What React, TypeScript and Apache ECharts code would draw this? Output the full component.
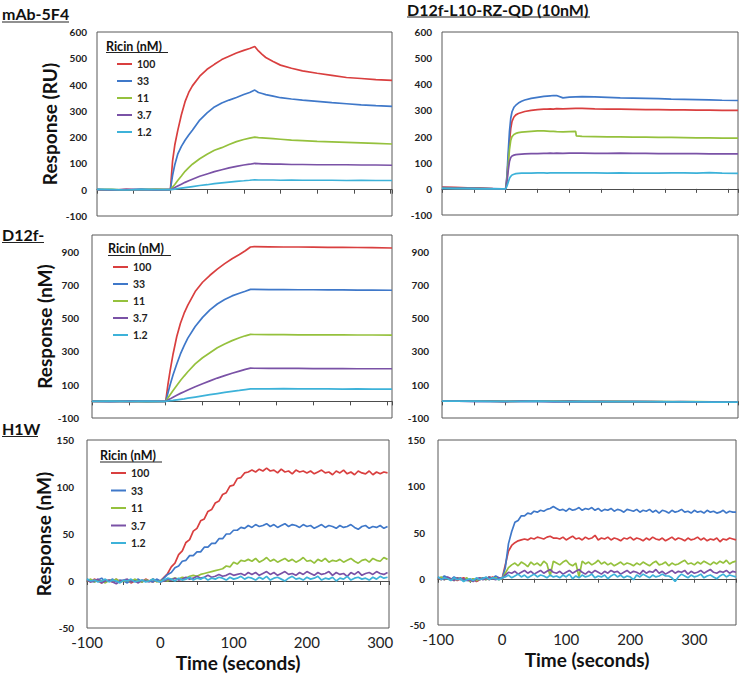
import React, { useEffect, useRef } from 'react';
import * as echarts from 'echarts';

// ---------- labels ----------
const concentrations = ['100', '33', '11', '3.7', '1.2'];
const seriesColors = ['#D93F3F', '#3F78C9', '#95C13D', '#7A52A6', '#3DB2D9'];
const panelTitles = ['mAb-5F4', 'D12f-L10-RZ-QD (10nM)', 'D12f-', 'H1W'];
const legendTitle = 'Ricin (nM)';
const yTitles = ['Response (RU)', 'Response (nM)', 'Response (nM)'];
const xTitle = 'Time (seconds)';

// ---------- mAb-5F4 (top-left) ----------
const tTL = [-100, -80, -60, -40, -20, 0, 3, 6, 10, 15, 20, 25, 30, 40, 50, 60, 70, 80, 90, 100, 108, 115, 120, 125, 130, 140, 150, 165, 180, 200, 220, 240, 260, 280, 302];
const mab100 = [0, -2, 1, -1, 1, 0, 110, 170, 225, 285, 335, 370, 395, 432, 458, 477, 495, 508, 520, 530, 537, 545, 528, 515, 503, 488, 474, 462, 452, 443, 435, 427, 423, 419, 416];
const mab33 = [1, 0, -1, 2, 0, 0, 55, 95, 135, 165, 188, 208, 226, 265, 292, 315, 330, 341, 351, 362, 370, 379, 370, 366, 362, 356, 350, 345, 341, 336, 331, 327, 323, 320, 317];
const mab11 = [0, 1, -1, 0, 1, 0, 10, 20, 35, 52, 70, 84, 97, 118, 135, 150, 160, 172, 183, 191, 196, 200, 198, 197, 196, 194, 192, 189, 187, 184, 182, 180, 178, 176, 174];
const mab37 = [0, -1, 1, 0, -1, 0, 4, 8, 14, 21, 28, 34, 40, 51, 60, 69, 76, 83, 89, 94, 97, 100, 99, 98, 98, 97, 97, 96, 96, 95, 95, 95, 94, 94, 93];
const mab12 = [1, 0, -1, 1, 0, 0, 1, 2, 4, 6, 8, 10, 12, 16, 19, 23, 26, 29, 32, 34, 36, 38, 37, 37, 37, 37, 36, 37, 36, 36, 36, 35, 36, 35, 35];

// ---------- D12f-L10-RZ-QD vs mAb-5F4 chip (top-right) ----------
const tTR = [-100, -80, -60, -40, -20, -5, 0, 2, 4, 6, 8, 10, 13, 16, 20, 25, 30, 40, 50, 60, 65, 70, 75, 80, 90, 100, 110, 111, 120, 140, 160, 180, 200, 220, 240, 260, 280, 300, 320, 340, 365];
const qdA100 = [7, 6, 4, 3, 1, 0, 0, 40, 110, 180, 230, 258, 275, 283, 288, 292, 296, 300, 303, 305, 305, 306, 305, 307, 306, 307, 308, 307, 308, 306, 305, 305, 304, 303, 303, 302, 302, 301, 301, 300, 300];
const qdA33 = [5, 4, 3, 2, 1, 0, 0, 50, 140, 220, 270, 295, 312, 320, 328, 335, 340, 346, 350, 354, 355, 356, 357, 357, 348, 351, 352, 352, 353, 352, 350, 348, 347, 346, 345, 343, 342, 341, 340, 339, 338];
const qdA11 = [3, 2, 1, 1, 0, 0, 0, 30, 90, 150, 185, 200, 208, 212, 215, 217, 218, 220, 222, 222, 221, 220, 220, 219, 218, 219, 220, 203, 201, 200, 199, 199, 198, 198, 197, 197, 196, 195, 195, 194, 194];
const qdA37 = [2, 2, 1, 1, 0, 0, 0, 25, 70, 105, 120, 126, 129, 131, 132, 133, 134, 135, 135, 136, 136, 137, 136, 137, 136, 137, 137, 137, 137, 136, 136, 137, 136, 136, 135, 135, 135, 135, 134, 134, 134];
const qdA12 = [2, 1, 1, 0, 0, 0, 0, 10, 25, 40, 48, 53, 56, 58, 59, 60, 60, 60, 61, 61, 60, 61, 61, 61, 61, 61, 61, 61, 61, 61, 60, 61, 60, 60, 60, 61, 61, 60, 62, 60, 59];

// ---------- D12f- (middle-left) ----------
const tML = [-100, -75, -50, -25, 0, 3, 6, 10, 15, 20, 25, 30, 40, 50, 60, 70, 80, 90, 100, 108, 115, 120, 140, 160, 180, 200, 220, 240, 260, 280, 307];
const d100 = [0, 2, -1, 1, 0, 100, 185, 285, 390, 470, 530, 578, 660, 716, 758, 795, 828, 857, 883, 905, 928, 930, 929, 928, 928, 927, 926, 926, 925, 924, 922];
const d33 = [1, 0, 1, -1, 0, 50, 100, 160, 225, 285, 335, 380, 450, 505, 550, 585, 612, 634, 650, 662, 673, 673, 672, 672, 671, 671, 670, 670, 669, 669, 668];
const d11 = [0, 1, 0, -1, 0, 20, 40, 65, 95, 125, 152, 178, 225, 262, 292, 322, 345, 365, 382, 394, 403, 402, 401, 401, 400, 400, 400, 400, 399, 399, 398];
const d37 = [0, -1, 1, 0, 0, 8, 15, 25, 37, 48, 58, 68, 88, 106, 123, 140, 155, 169, 182, 192, 200, 199, 198, 198, 198, 197, 197, 197, 196, 196, 196];
const d12 = [0, 1, 0, 1, 0, 2, 4, 6, 9, 12, 15, 19, 26, 33, 40, 47, 54, 60, 66, 71, 75, 75, 75, 76, 75, 75, 75, 74, 75, 74, 74];

// ---------- D12f-L10-RZ-QD vs D12f- chip (middle-right) ----------
const tMR = [-100, -75, -50, -25, 0, 25, 50, 75, 100, 125, 150, 175, 200, 225, 250, 275, 300, 325, 350, 365];
const qdB100 = [2, 3, 1, 2, 0, 1, 2, 0, 1, -1, 0, -1, -2, -1, -3, -2, -3, -4, -3, -4];
const qdB33 = [1, 2, 0, 1, -1, 0, 1, -1, 0, -2, -1, -2, -1, -3, -2, -4, -3, -5, -4, -5];
const qdB11 = [3, 2, 2, 1, 0, 2, 1, 1, 0, 0, -1, 0, -2, -1, -2, -3, -2, -3, -4, -4];
const qdB37 = [1, 1, 0, 0, -1, 1, 0, -1, 0, -1, -2, -1, -2, -2, -3, -3, -4, -3, -5, -5];
const qdB12 = [2, 1, 1, 0, 0, 0, 1, 0, -1, 0, -1, -2, -1, -2, -3, -2, -3, -4, -4, -5];

// ---------- H1W (bottom-left) ----------
const tBL = [-100, -95, -90, -85, -80, -75, -70, -65, -60, -55, -50, -45, -40, -35, -30, -25, -20, -15, -10, -5, 0, 5, 10, 15, 20, 25, 30, 35, 40, 45, 50, 55, 60, 65, 70, 75, 80, 85, 90, 95, 100, 105, 110, 115, 120, 125, 130, 135, 140, 145, 150, 155, 160, 165, 170, 175, 180, 185, 190, 195, 200, 205, 210, 215, 220, 225, 230, 235, 240, 245, 250, 255, 260, 265, 270, 275, 280, 285, 290, 295, 300, 305, 310];
const h100 = [1, -1, 2, 0, -2, 1, 0, -1, 2, -1, 0, 1, -2, 0, 1, -1, 2, 0, -1, 1, 0, 4, 8, 15, 19, 28, 32, 41, 44, 53, 56, 64, 66, 74, 76, 83, 85, 92, 94, 101, 102, 109, 110, 115, 116, 118, 116, 119, 117, 120, 117, 118, 115, 119, 116, 117, 114, 118, 116, 117, 115, 117, 114, 116, 118, 115, 116, 113, 117, 115, 118, 114, 116, 113, 117, 115, 114, 117, 113, 116, 114, 116, 115];
const h33 = [2, 0, -1, 1, 3, -1, 0, 2, -1, 1, 0, -2, 1, 0, 2, -1, 1, 0, -1, 2, 0, 3, 7, 9, 14, 16, 21, 22, 27, 27, 31, 31, 36, 36, 40, 40, 45, 45, 50, 50, 54, 54, 57, 56, 59, 57, 60, 58, 59, 61, 58, 60, 57, 59, 61, 58, 60, 59, 57, 60, 58, 59, 56, 58, 60, 57, 59, 58, 56, 59, 57, 58, 60, 57, 55, 58, 59, 56, 58, 57, 59, 56, 58];
const h11 = [0, 2, -1, 1, 0, -2, 1, 0, 2, -1, 0, 1, -1, 2, 0, -1, 1, 0, 2, -1, 0, 1, 0, 2, 3, 2, 4, 3, 5, 6, 5, 7, 8, 9, 10, 11, 12, 13, 16, 15, 20, 18, 22, 21, 23, 21, 24, 20, 22, 25, 21, 23, 20, 22, 24, 21, 23, 20, 22, 25, 21, 22, 19, 23, 21, 24, 20, 22, 21, 23, 20, 22, 24, 21, 19, 22, 23, 20, 24, 22, 21, 25, 23];
const h37 = [1, -1, 0, 2, -2, 0, 1, -1, -3, 0, 1, 2, -1, 0, -2, 1, 0, -1, 2, 0, -1, 0, 2, 1, 3, 1, 2, 4, 2, 3, 5, 3, 4, 6, 4, 5, 7, 5, 6, 8, 6, 7, 8, 6, 9, 7, 9, 6, 8, 10, 7, 9, 6, 8, 10, 7, 8, 6, 9, 7, 10, 8, 6, 9, 7, 8, 10, 6, 9, 7, 8, 5, 9, 7, 10, 6, 8, 9, 7, 10, 8, 7, 9];
const h12 = [2, 0, 1, -1, 0, 2, -1, 1, 0, -2, 1, 0, 2, -1, 0, 1, -1, 0, 2, 0, -1, 1, 3, 2, 0, 3, 1, 2, 4, 1, 3, 2, 4, 1, 3, 2, 4, 3, 1, 4, 2, 3, 5, 2, 4, 3, 1, 4, 2, 5, 1, 3, 4, 2, 0, 3, 5, 2, 3, 1, 4, 2, 3, 5, 1, 3, 2, 4, 0, 3, 2, 5, 1, 3, 4, 2, 3, 1, 4, 2, 5, 3, 4];

// ---------- D12f-L10-RZ-QD vs H1W chip (bottom-right) ----------
const tBR = [-100, -95, -90, -85, -80, -75, -70, -65, -60, -55, -50, -45, -40, -35, -30, -25, -20, -15, -10, -5, 0, 5, 10, 15, 20, 25, 30, 35, 40, 45, 50, 55, 60, 65, 70, 75, 80, 85, 90, 95, 100, 105, 110, 115, 120, 125, 130, 135, 140, 145, 150, 155, 160, 165, 170, 175, 180, 185, 190, 195, 200, 205, 210, 215, 220, 225, 230, 235, 240, 245, 250, 255, 260, 265, 270, 275, 280, 285, 290, 295, 300, 305, 310, 315, 320, 325, 330, 335, 340, 345, 350, 355, 360, 365];
const qdC100 = [1, -1, 2, 0, -1, 1, -2, 0, 1, -1, -2, 0, -3, -1, 0, 1, -1, 2, 0, 1, 0, 15, 30, 36, 39, 41, 42, 43, 42, 44, 43, 45, 44, 43, 45, 46, 44, 44, 43, 45, 42, 44, 46, 43, 44, 42, 45, 43, 44, 47, 42, 44, 43, 45, 42, 44, 43, 41, 44, 43, 45, 42, 44, 43, 41, 44, 42, 45, 43, 42, 44, 41, 43, 45, 42, 44, 43, 41, 44, 42, 43, 45, 42, 44, 41, 43, 42, 44, 40, 43, 42, 44, 43, 42];
const qdC33 = [2, 0, 3, 1, -1, 2, 0, 1, -2, 0, -3, -1, -2, 0, 1, -1, 2, 0, 3, 1, 0, 12, 38, 51, 61, 63, 68, 68, 71, 70, 73, 72, 74, 73, 75, 76, 78, 76, 74, 75, 73, 76, 74, 75, 77, 74, 76, 75, 77, 74, 76, 73, 75, 74, 76, 73, 75, 74, 72, 75, 74, 73, 75, 72, 74, 73, 75, 72, 74, 71, 74, 73, 71, 74, 72, 73, 75, 72, 73, 71, 74, 72, 73, 71, 74, 72, 73, 71, 72, 74, 71, 73, 72, 72];
const qdC11 = [0, 2, -1, 1, 0, -2, 1, 0, -1, 1, -3, 0, -2, 1, 0, -1, 2, 0, 1, -1, 0, 6, 12, 15, 17, 14, 18, 16, 13, 18, 15, 17, 14, 19, 16, 3, 19, 17, 15, 18, 20, 16, 14, 17, 2, 19, 16, 18, 15, 17, 20, 16, 18, 15, 17, 14, 16, 18, 15, 17, 16, 14, 17, 15, 18, 16, 14, 17, 19, 15, 16, 18, 14, 17, 15, 16, 18, 20, 16, 17, 15, 18, 16, 19, 17, 15, 18, 16, 19, 17, 20, 16, 18, 19];
const qdC37 = [1, 0, -1, 2, 0, -2, 1, -1, 0, -2, -1, -3, 0, 1, -1, 0, 2, 0, -1, 1, 0, 4, 7, 6, 8, 5, 7, 9, 6, 8, 5, 7, 9, 6, 8, 10, 7, 6, 8, 5, 7, 9, 6, 8, 10, 7, 5, 8, 6, 9, 7, 5, 8, 6, 9, 7, 8, 5, 7, 9, 6, 8, 7, 5, 9, 6, 8, 7, 10, 6, 8, 5, 7, 9, 6, 8, 7, 9, 5, 8, 6, 7, 9, 6, 8, 10, 7, 6, 8, 7, 9, 6, 8, 7];
const qdC12 = [2, -1, 1, 0, -2, 1, -1, 0, -3, -1, 0, -2, 1, -1, 0, 2, -1, 1, 0, -1, 1, 2, 4, 1, 3, 5, 2, 4, 1, 3, 5, 2, 4, 3, 1, 4, 2, 3, 1, 4, 2, 5, 0, 3, 1, 4, 2, 3, 5, 1, 3, 2, 4, 0, 3, 5, 2, 4, 1, 3, 2, -1, 4, 2, 5, 3, 1, 4, 2, 3, 5, 3, 3, 1, -3, 2, 5, 3, 1, 4, 2, 3, 5, 1, 3, 4, 2, 0, 3, 5, 2, 4, 3, 2];

// ---------- axis ticks ----------
const yRanges = [[-100, 600, 100], [-100, 600, 100], [-100, 1000, 200], [-100, 1000, 200], [-50, 150, 50], [-50, 150, 50]];
const xMaxes = [302, 365, 307, 365, 312, 365];
const xMin = -100;
const xTickStep = 50;
const xLabelStep = 100;

const FONT = 'Lato, "Open Sans", sans-serif';

const panelData = [
  { t: tTL, v: [mab100, mab33, mab11, mab37, mab12] },
  { t: tTR, v: [qdA100, qdA33, qdA11, qdA37, qdA12] },
  { t: tML, v: [d100, d33, d11, d37, d12] },
  { t: tMR, v: [qdB100, qdB33, qdB11, qdB37, qdB12] },
  { t: tBL, v: [h100, h33, h11, h37, h12] },
  { t: tBR, v: [qdC100, qdC33, qdC11, qdC37, qdC12] },
];

// layout (pixels)
const gridBoxes = [
  { left: 97, top: 32, width: 295, height: 184 },
  { left: 442, top: 32, width: 296, height: 183 },
  { left: 92, top: 235, width: 300, height: 183 },
  { left: 442, top: 235, width: 296, height: 183 },
  { left: 87, top: 440, width: 302, height: 188 },
  { left: 438, top: 440, width: 298, height: 185 },
];
const yLabelMargins = [10, 10, 13, 13, 13, 13];
const yNameGaps = [38, 0, 38, 0, 34, 0];

function buildOption() {
  const grid = gridBoxes.map((g) => ({
    ...g,
    show: true,
    borderColor: '#595959',
    borderWidth: 1,
    backgroundColor: '#ffffff',
  }));

  const xAxis: any[] = [];
  const yAxis: any[] = [];
  const series: any[] = [];

  gridBoxes.forEach((_, p) => {
    const isBottom = p >= 4;
    // axis through zero with tick marks
    xAxis.push({
      type: 'value',
      gridIndex: p,
      min: xMin,
      max: xMaxes[p],
      interval: xTickStep,
      position: 'bottom',
      axisLine: { show: true, onZero: true, lineStyle: { color: '#4d4d4d', width: 1 } },
      axisTick: { show: true, length: 4, lineStyle: { color: '#4d4d4d' } },
      axisLabel: { show: false },
      splitLine: { show: false },
    });
    // label axis at the bottom of the box
    xAxis.push({
      type: 'value',
      gridIndex: p,
      min: xMin,
      max: xMaxes[p],
      interval: xLabelStep,
      position: 'bottom',
      axisLine: { show: false, onZero: false },
      axisTick: { show: false },
      splitLine: { show: false },
      axisLabel: {
        show: isBottom,
        showMaxLabel: false,
        fontSize: 15,
        color: '#222',
        fontFamily: FONT,
        margin: 6,
      },
      name: isBottom ? xTitle : '',
      nameLocation: 'middle',
      nameGap: 25,
      nameTextStyle: { fontSize: 19, fontWeight: 'bold', color: '#111', fontFamily: FONT },
    });
    const [ymin, ymax, yint] = yRanges[p];
    const isLeft = p % 2 === 0;
    yAxis.push({
      type: 'value',
      gridIndex: p,
      min: ymin,
      max: ymax,
      interval: yint,
      axisLine: { show: false },
      axisTick: { show: false },
      splitLine: { show: false },
      axisLabel: {
        fontSize: 10,
        fontWeight: 'bold',
        color: '#222',
        fontFamily: FONT,
        margin: yLabelMargins[p],
        showMaxLabel: ymax !== 1000,
      },
      name: isLeft ? yTitles[p / 2] : '',
      nameLocation: 'middle',
      nameGap: yNameGaps[p],
      nameRotate: 90,
      nameTextStyle: { fontSize: 19, fontWeight: 'bold', color: '#111', fontFamily: FONT },
    });

    const pd = panelData[p];
    pd.v.forEach((vals, k) => {
      series.push({
        type: 'line',
        name: concentrations[k],
        xAxisIndex: p * 2,
        yAxisIndex: p,
        data: pd.t.map((x, i) => [x, vals[i]]),
        symbol: 'none',
        showSymbol: false,
        lineStyle: { color: seriesColors[k], width: 1.7 },
        itemStyle: { color: seriesColors[k] },
        emphasis: { disabled: true },
        silent: true,
      });
    });
  });

  // legends for the left column
  const legendTops = [58, 261, 467];
  const legendLefts = [117, 113, 111];
  const legendGaps = [5, 5, 5.5];
  const legend = legendTops.map((top, i) => ({
    orient: 'vertical',
    left: legendLefts[i],
    top,
    data: concentrations,
    icon: 'rect',
    itemWidth: 15,
    itemHeight: 2,
    itemGap: legendGaps[i],
    selectedMode: false,
    padding: 0,
    textStyle: { fontSize: 10.5, fontWeight: 'bold', color: '#222', fontFamily: FONT, lineHeight: 12 },
  }));

  // titles with underlines
  const titleSpecs = [
    { text: panelTitles[0], x: 2, base: 18.3, x2: 69, ul: 22, fs: 16 },
    { text: panelTitles[1], x: 407, base: 14, x2: 590, ul: 17, fs: 16 },
    { text: panelTitles[2], x: 2, base: 239, x2: 44, ul: 242.5, fs: 16 },
    { text: panelTitles[3], x: 2, base: 433.3, x2: 38, ul: 436.5, fs: 16 },
    { text: legendTitle, x: 106, base: 50, x2: 168, ul: 52.5, fs: 12.5 },
    { text: legendTitle, x: 108, base: 252.5, x2: 171, ul: 255.5, fs: 12.5 },
    { text: legendTitle, x: 100, base: 459, x2: 162, ul: 462, fs: 12.5 },
  ];
  const graphic: any[] = [];
  titleSpecs.forEach((s) => {
    graphic.push({
      type: 'text',
      x: s.x,
      y: Math.max(s.base - 0.3 * s.fs, s.fs / 2 + 1),
      style: {
        text: s.text,
        fill: '#111',
        font: `bold ${s.fs}px ${FONT}`,
        textAlign: 'left',
        textVerticalAlign: 'middle',
      },
      silent: true,
    });
    graphic.push({
      type: 'line',
      shape: { x1: s.x, y1: s.ul, x2: s.x2, y2: s.ul },
      style: { stroke: '#222', lineWidth: 1.2 },
      silent: true,
    });
  });

  return {
    animation: false,
    backgroundColor: '#ffffff',
    textStyle: { fontFamily: FONT },
    grid,
    xAxis,
    yAxis,
    legend,
    series,
    graphic,
  };
}

export default function App() {
  const ref = useRef<HTMLDivElement>(null);
  useEffect(() => {
    if (!ref.current) return;
    const chart = echarts.init(ref.current, undefined, { renderer: 'svg' });
    chart.setOption(buildOption() as any);
    return () => {
      chart.dispose();
    };
  }, []);
  return (
    <div
      ref={ref}
      style={{ position: 'fixed', left: 0, top: 0, width: 740, height: 677, background: '#fff' }}
    />
  );
}
